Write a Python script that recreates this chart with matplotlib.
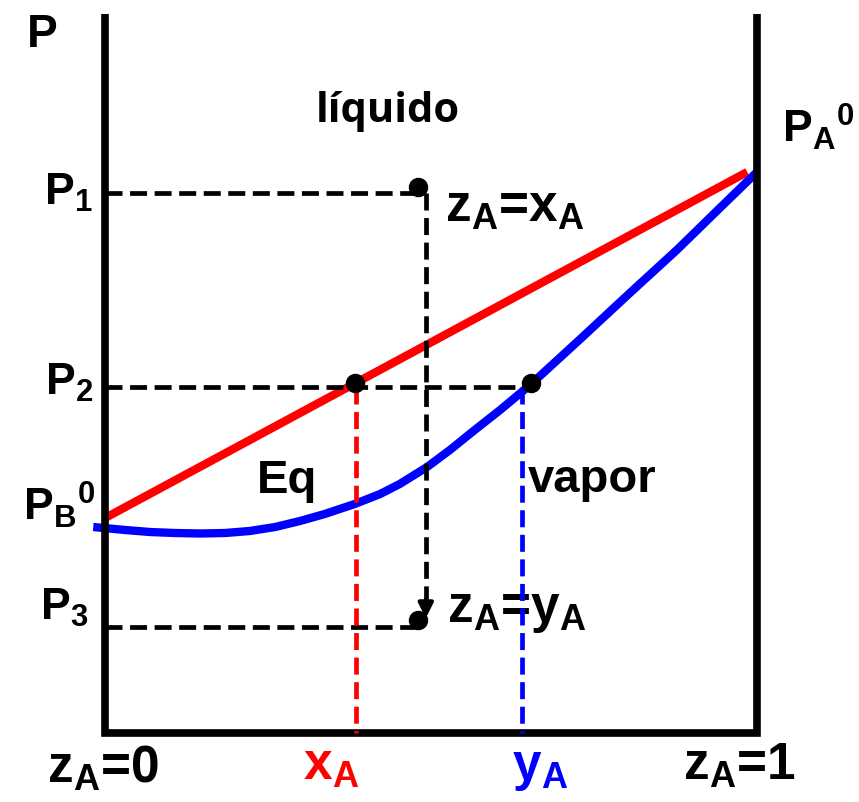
import matplotlib
matplotlib.use('Agg')
import matplotlib.pyplot as plt

plt.rcParams['font.family'] = ['Liberation Sans', 'DejaVu Sans']
plt.rcParams['font.weight'] = 'bold'
plt.rcParams['mathtext.fontset'] = 'custom'
plt.rcParams['mathtext.rm'] = 'Liberation Sans:bold'
plt.rcParams['mathtext.it'] = 'Liberation Sans:bold'
plt.rcParams['mathtext.bf'] = 'Liberation Sans:bold'
plt.rcParams['mathtext.default'] = 'rm'

# composition of A (0..1) and pressure (arbitrary units)
bubble_z = [0.003, 0.985]
bubble_p = [2.16, 5.61]
dew_z = [-0.018, 0.031, 0.069, 0.107, 0.146, 0.184, 0.222, 0.261, 0.299, 0.337,
         0.383, 0.422, 0.452, 0.494, 0.529, 0.567, 0.606, 0.652, 0.729, 0.805,
         0.877, 0.943, 1.0]
dew_p = [2.06, 2.03, 2.01, 2.00, 1.995, 2.00, 2.02, 2.06, 2.12, 2.19,
         2.29, 2.39, 2.49, 2.66, 2.83, 3.03, 3.23, 3.48, 3.94, 4.40,
         4.83, 5.25, 5.61]
z_feed = 0.492
x_A = 0.385
y_A = 0.640
P1, P2, P3 = 5.40, 3.46, 1.06
P_top = 7.19
dots_z = [0.480, 0.383, 0.653, 0.480]
dots_p = [5.46, 3.50, 3.50, 1.13]


def px(x, y):
    # pixel position -> data coords
    return (x - 105) / 652, (733 - y) / 100


fig = plt.figure(figsize=(8.59, 8.02), dpi=100)
ax = fig.add_axes([0, 0, 1, 1])
ax.set_xlim(-105 / 652, 754 / 652)
ax.set_ylim(-0.69, 7.33)
ax.axis('off')

# frame
ax.plot([0, 0, 1, 1], [P_top, 0, 0, P_top], color='black', lw=5.5,
        solid_joinstyle='miter', solid_capstyle='butt', zorder=3)

ax.plot(bubble_z, bubble_p, color='#ff0000', lw=6, solid_capstyle='butt', zorder=2)
ax.plot(dew_z, dew_p, color='#0000ff', lw=6, solid_capstyle='butt',
        solid_joinstyle='round', zorder=2)

dash = dict(lw=3.4, dashes=(3.6, 1.6), zorder=4)
ax.plot([0, dots_z[0]], [P1, P1], color='black', **dash)
ax.plot([0, dots_z[2]], [P2, P2], color='black', **dash)
ax.plot([0, dots_z[3]], [P3, P3], color='black', **dash)
ax.plot([z_feed, z_feed], [P1, P3 + 0.28], color='black', **dash)
ax.plot([x_A, x_A], [P2, 0], color='#ff0000', **dash)
ax.plot([y_A, y_A], [P2, 0], color='#0000ff', **dash)
ax.annotate('', xy=(z_feed, P3 + 0.06), xytext=(z_feed, P3 + 0.3),
            arrowprops=dict(arrowstyle='-|>', color='black', lw=3,
                            mutation_scale=22), zorder=5)

ax.plot(dots_z, dots_p, 'o', color='black', ms=13, zorder=6)

big = 37
mid = 32
ax.text(*px(42, 47), 'P', fontsize=33, ha='center', va='baseline')
ax.text(*px(93, 205), '$P_1$', fontsize=mid, ha='right', va='baseline')
ax.text(*px(93, 395), '$P_2$', fontsize=mid, ha='right', va='baseline')
ax.text(*px(88, 620), '$P_3$', fontsize=mid, ha='right', va='baseline')
ax.text(*px(95, 520), '$P_B{}^0$', fontsize=mid, ha='right', va='baseline')
ax.text(*px(782, 143), '$P_A{}^0$', fontsize=mid, ha='left', va='baseline')
ax.text(*px(388, 122), 'líquido', fontsize=30, ha='center', va='baseline',
        family=['Open Sans', 'DejaVu Sans'], fontweight='bold')
ax.text(*px(257, 493), 'Eq', fontsize=34, ha='left', va='baseline')
ax.text(*px(528, 492), 'vapor', fontsize=34, ha='left', va='baseline')
ax.text(*px(445, 222), '$z_A$=$x_A$', fontsize=big, ha='left', va='baseline', zorder=1)
ax.text(*px(447, 622), '$z_A$=$y_A$', fontsize=big, ha='left', va='baseline', zorder=1)
ax.text(*px(47, 783), '$z_A$=0', fontsize=big, ha='left', va='baseline')
ax.text(*px(303, 780), '$x_A$', fontsize=big, ha='left', va='baseline', color='#ff0000')
ax.text(*px(512, 780), '$y_A$', fontsize=big, ha='left', va='baseline', color='#0000ff')
ax.text(*px(683, 780), '$z_A$=1', fontsize=big, ha='left', va='baseline')

fig.savefig('out.png', dpi=100, facecolor='white')
